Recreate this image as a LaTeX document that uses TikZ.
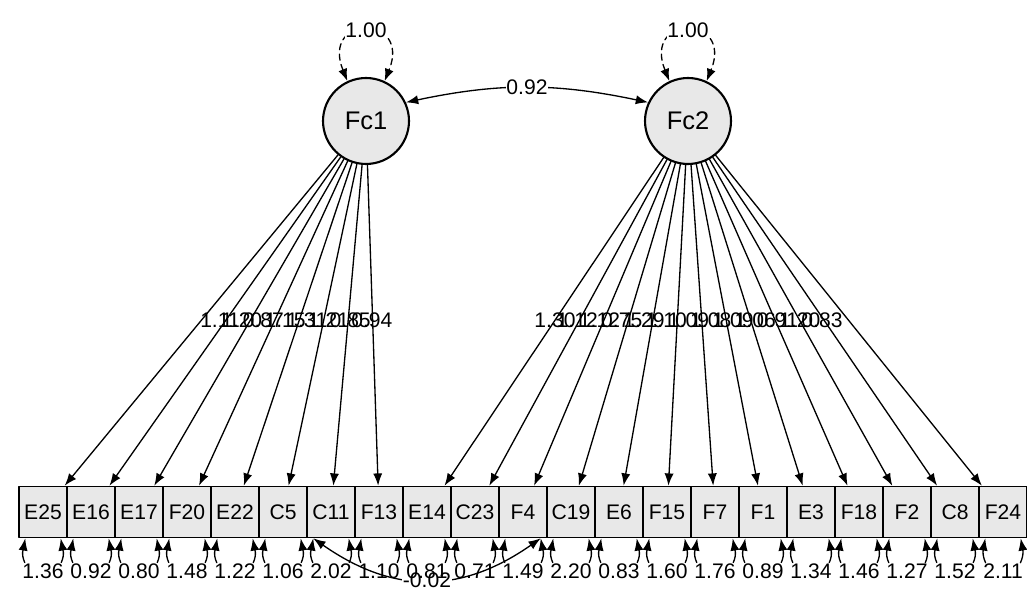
\documentclass[tikz,border=0pt]{standalone}
\usepackage{fontspec}
\setmainfont{Liberation Sans}
\usetikzlibrary{arrows.meta}
\definecolor{boxgray}{RGB}{232,232,232}

\begin{document}
\begin{tikzpicture}[x=0.02cm, y=0.02cm, line cap=round, line join=round,
  font=\fontsize{12}{14}\selectfont,
  >={Latex[length=7pt,width=5.2pt]},
  latent/.style={circle, draw, line width=1.2pt, fill=boxgray,
    minimum size=1.72cm, inner sep=0pt, font=\fontsize{14.5}{16}\selectfont},
  manifest/.style={rectangle, draw, line width=0.9pt, fill=boxgray,
    minimum width=0.96cm, minimum height=1.02cm, inner sep=0pt,
    font=\fontsize{12}{14}\selectfont},
  path/.style={line width=0.75pt},
  est/.style={inner sep=0.5pt}]

\useasboundingbox (0,0) rectangle (1027,612);

%-----------------------
% 潜变量 Fc1, Fc2
%-----------------------
\node[latent] (Fc1) at (366,491) {Fc1};
\node[latent] (Fc2) at (688,491) {Fc2};

%-----------------------
% 观测变量：一排方框
%-----------------------
\foreach \b [count=\i] in {E25,E16,E17,F20,E22,C5,C11,F13,E14,C23,F4,
                            C19,E6,F15,F7,F1,E3,F18,F2,C8,F24}
  \node[manifest] (\b) at ({43+48*(\i-1)},100) {\b};

%-----------------------
% 方差（虚线自环）与因子相关
%-----------------------
\draw[path, <->, dashed, dash pattern=on 3.5pt off 2.5pt]
  (Fc1.115) to[out=112,in=68,looseness=5] node[fill=white,est] {1.00} (Fc1.65);
\draw[path, <->, dashed, dash pattern=on 3.5pt off 2.5pt]
  (Fc2.115) to[out=112,in=68,looseness=5] node[fill=white,est] {1.00} (Fc2.65);
\draw[path, <->] (Fc1.25) to[bend left=12] node[fill=white,est] {0.92} (Fc2.155);

%-----------------------
% 因子载荷
%-----------------------
\foreach \b in {E25,E16,E17,F20,E22,C5,C11,F13}
  \draw[path, ->] (Fc1) -- (\b);
\foreach \b in {E14,C23,F4,C19,E6,F15,F7,F1,E3,F18,F2,C8,F24}
  \draw[path, ->] (Fc2) -- (\b);

% 载荷数值（原图中挤在一起）
\foreach \v [count=\i] in {1.11,1.20,0.87,1.15,1.31,1.21,0.85,0.94}
  \node[est] at ({220+21.7*(\i-1)},292) {\v};
\foreach \v [count=\i] in {1.30,1.12,1.12,0.75,1.29,1.10,1.09,1.08,1.09,1.06,0.91,1.20,0.83}
  \node[est] at ({555+22.25*(\i-1)},292) {\v};

%-----------------------
% 残差相关 C11 -- F4
%-----------------------
\draw[path, <->] (C11.-124) to[out=-35,in=-145,looseness=1.1]
  node[fill=white,est] {-0.02} (F4.-56);

%-----------------------
% 残差方差
%-----------------------
\foreach \b/\v in {E25/1.36,E16/0.92,E17/0.80,F20/1.48,E22/1.22,C5/1.06,C11/2.02,
                   F13/1.10,E14/0.81,C23/0.71,F4/1.49,C19/2.20,E6/0.83,F15/1.60,
                   F7/1.76,F1/0.89,E3/1.34,F18/1.46,F2/1.27,C8/1.52,F24/2.11}
{
  \node[est] (r\b) at ([yshift=-0.66cm]\b.south) {\v};
  \draw[path, ->] ([xshift=2pt]r\b.north west) to[out=115,in=-100] (\b.-124);
  \draw[path, ->] ([xshift=-2pt]r\b.north east) to[out=65,in=-80] (\b.-56);
}

\end{tikzpicture}
\end{document}
